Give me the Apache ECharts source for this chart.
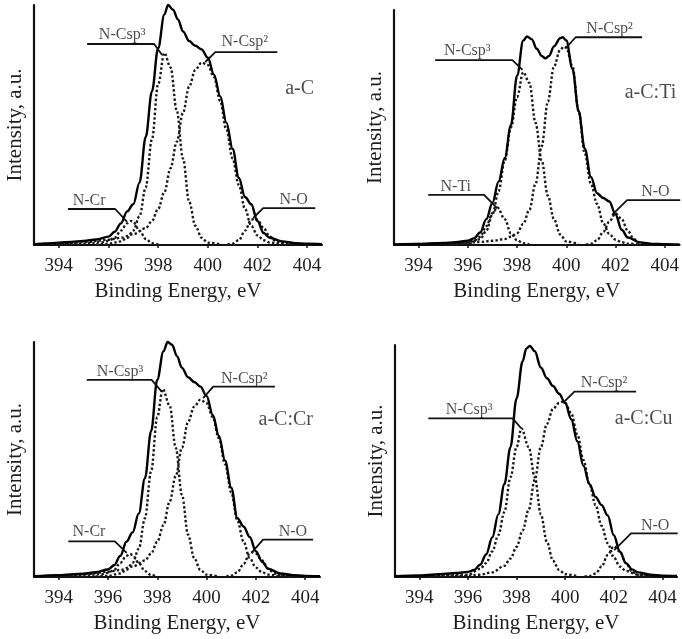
<!DOCTYPE html>
<html><head><meta charset="utf-8">
<script src="https://cdn.jsdelivr.net/npm/echarts@6/dist/echarts.min.js"></script>
<style>html,body{margin:0;padding:0;background:#fff}#c{width:682px;height:639px}</style>
</head><body><div id="c"></div><script>
// ---------- data ----------
const xTicks = [394, 396, 398, 400, 402, 404];
const sampleNames = ['a-C', 'a-C:Ti', 'a-C:Cr', 'a-C:Cu'];

// a-C
const aC_env = [[393,0.3],[393.5,0.6],[394,1.0],[394.5,1.3],[395,1.7],[395.5,2.3],[396,3.5],[396.25,5.5],[396.5,9],[396.75,14],[397,17],[397.25,26],[397.5,45],[397.75,64],[398,82],[398.25,96],[398.4,100],[398.6,98],[398.8,94],[399,89],[399.25,85],[399.5,83],[399.75,81.5],[400,78],[400.25,71],[400.5,62],[400.75,51],[401,40],[401.25,28],[401.5,20],[401.75,17],[402,10],[402.25,5],[402.5,3],[403,1.5],[403.5,0.8],[404,0.5],[404.6,0.3]];
const aC_csp3 = [[395.5,0.2],[396,0.5],[396.5,1.5],[396.75,3],[397,6],[397.25,12],[397.5,24],[397.75,44],[398,67],[398.25,80],[398.5,74],[398.75,56],[399,36],[399.25,18],[399.5,8],[399.75,3],[400,1],[400.5,0.2]];
const aC_csp2 = [[393.2,0.3],[394,0.6],[395,1.2],[396,2.2],[396.5,3],[397,4.5],[397.5,7],[397.75,10],[398,15],[398.25,22],[398.5,32],[398.75,43],[399,55],[399.25,66],[399.5,73],[399.75,76],[400,75],[400.25,70],[400.5,60],[400.75,48],[401,36],[401.25,25],[401.5,15],[401.75,8],[402,4],[402.25,2],[402.5,1],[403,0.4],[403.5,0.2],[404.3,0.1]];
const aC_cr = [[393.5,0.2],[395,0.6],[395.75,1.2],[396,1.8],[396.25,3],[396.5,6],[396.75,9],[396.9,10],[397,9.5],[397.25,6],[397.5,2.5],[397.75,0.8],[398,0.2]];
const aC_o = [[400.8,0.2],[401,0.6],[401.25,2],[401.5,6],[401.75,10.5],[401.9,11],[402,10.5],[402.25,7],[402.5,3.5],[402.75,1.5],[403,0.8],[403.5,0.4],[404.3,0.2]];

// a-C:Ti
const aCTi_env = [[393,0.2],[394,0.4],[395,0.85],[395.5,1.2],[396,1.8],[396.25,2.8],[396.5,5.3],[396.75,11],[397,18],[397.25,27],[397.5,37],[397.75,51],[398,72],[398.25,87],[398.4,88.7],[398.6,87.5],[398.8,83.5],[399,80.5],[399.15,79.4],[399.3,80.5],[399.5,84.5],[399.75,88],[399.85,88.4],[400,87],[400.25,75],[400.5,57],[400.75,41],[401,29],[401.25,22],[401.5,20],[401.75,18.5],[402,13],[402.25,6.5],[402.5,3.2],[403,1.1],[403.5,0.5],[404,0.3],[404.6,0.2]];
const aCTi_csp3 = [[395.5,0.2],[396,0.6],[396.5,2.5],[396.75,6],[397,13],[397.25,23],[397.5,36],[397.75,50],[398,63],[398.25,73.5],[398.5,69],[398.75,52],[399,36],[399.25,21],[399.5,11],[399.75,4.5],[400,1.5],[400.5,0.3]];
const aCTi_csp2 = [[393.2,0.2],[394.5,0.5],[396,1],[396.5,1.3],[397,1.8],[397.5,2.5],[397.75,3.5],[398,5],[398.25,9],[398.5,15],[398.75,26],[399,42],[399.25,61],[399.5,76],[399.75,83],[399.9,84.4],[400,84],[400.25,76],[400.5,57],[400.75,39],[401,26],[401.25,17.5],[401.5,9.2],[401.75,4.6],[402,2.3],[402.25,1.2],[402.5,0.6],[403,0.2]];
const aCTi_ti = [[393.5,0.2],[395.5,0.6],[396,1],[396.25,1.8],[396.5,3.5],[396.75,8],[397,13.5],[397.2,16],[397.5,11],[397.75,5],[398,2],[398.25,0.8],[398.5,0.3]];
const aCTi_o = [[400.8,0.2],[401,0.5],[401.25,2],[401.5,5.5],[401.75,10],[402,13.5],[402.25,11],[402.5,6],[402.75,2.5],[403,0.8],[403.5,0.3]];

// a-C:Cr
const aCCr_env = [[393,0.3],[394,0.8],[395,1.4],[395.5,2],[396,3.2],[396.25,5],[396.5,9],[396.75,15],[397,19],[397.25,27],[397.5,42],[397.75,62],[398,84],[398.25,96],[398.42,100],[398.6,98.8],[398.8,94],[399,89],[399.25,85],[399.5,83],[399.75,81],[400,77],[400.25,69],[400.5,60],[400.75,49.5],[401,38],[401.25,25],[401.5,21.5],[401.75,17],[402,11],[402.25,6.5],[402.5,3.5],[403,1.5],[403.5,0.8],[404,0.5],[404.6,0.3]];
const aCCr_csp3 = [[395.5,0.2],[396,0.5],[396.5,1.5],[396.75,3],[397,6],[397.25,12],[397.5,25],[397.75,45],[398,68],[398.22,80],[398.5,73],[398.75,55],[399,35],[399.25,18],[399.5,8],[399.75,3],[400,1],[400.5,0.2]];
const aCCr_csp2 = [[393.2,0.3],[394,0.6],[395,1.2],[396,2.2],[396.5,3],[397,4.5],[397.5,7],[397.75,10],[398,15],[398.25,22],[398.5,32],[398.75,43],[399,55],[399.25,66],[399.5,72.5],[399.75,75.5],[400,74],[400.25,68],[400.5,59],[400.75,48],[401,36],[401.25,24],[401.5,15],[401.75,8],[402,4],[402.25,2],[402.5,1],[403,0.4],[403.5,0.2],[404.3,0.1]];
const aCCr_cr = [[393.5,0.2],[395,0.6],[395.75,1.2],[396,1.8],[396.25,3],[396.5,6],[396.75,9],[396.9,9.8],[397,9.3],[397.25,6],[397.5,2.5],[397.75,0.8],[398,0.2]];
const aCCr_o = [[400.8,0.2],[401,0.6],[401.25,2],[401.5,5.5],[401.75,10],[401.86,10.5],[402,10],[402.25,7],[402.5,3.5],[402.75,1.5],[403,0.8],[403.5,0.4],[404.3,0.2]];

// a-C:Cu
const aCCu_env = [[393,0.3],[394,0.7],[395,1.3],[395.5,1.7],[396,2.2],[396.25,3],[396.5,5.3],[396.75,9.7],[397,17],[397.25,27],[397.5,40],[397.75,56],[398,77],[398.25,93],[398.4,98.4],[398.55,99.6],[398.75,97.3],[399,90.3],[399.25,85.7],[399.5,82.3],[399.75,79],[400,75],[400.25,68],[400.5,58.5],[400.75,48],[401,40],[401.25,34.5],[401.5,31],[401.75,26.5],[402,18],[402.25,11],[402.5,6],[402.75,3.3],[403,2],[403.5,1],[404,0.6],[404.6,0.4]];
const aCCu_csp3 = [[394,0.3],[395,0.6],[396,1],[396.5,3.5],[396.75,6],[397,11],[397.25,18],[397.5,28],[397.75,43],[398,56],[398.2,64],[398.5,56],[398.75,43],[399,27],[399.25,15],[399.5,7],[399.75,3],[400,1.2],[400.5,0.3]];
const aCCu_csp2 = [[393.2,0.2],[394.5,0.4],[396,0.5],[396.5,1],[397,2],[397.5,4.8],[397.75,8],[398,13],[398.25,20],[398.5,29],[398.75,42],[399,56],[399.25,66],[399.5,72.5],[399.75,75],[399.9,75.6],[400,75],[400.25,70.5],[400.5,61.5],[400.75,50.5],[401,40],[401.25,31],[401.5,22],[401.75,14.5],[402,8.5],[402.25,4.5],[402.5,2.6],[403,1],[403.5,0.4]];
const aCCu_o = [[400.8,0.2],[401,0.4],[401.25,1.5],[401.5,4.5],[401.75,9.5],[402,13.2],[402.25,11],[402.5,6],[402.75,2.3],[403,0.8],[403.5,0.2]];

// annotation anchors (data units): leader polyline + text anchor
const aC_notes = [
  {text:'N-Csp³', at:[396.55,87.5], path:[[395.14,83.75],[397.84,83.75],[398.16,79.2]]},
  {text:'N-Csp²', at:[401.49,84.5], path:[[399.9,76.25],[400.3,80.4],[402.8,80.4]]},
  {text:'N-Cr',   at:[395.22,18.6], path:[[394.37,15],[396.27,15],[396.75,9.6]]},
  {text:'N-O',    at:[403.46,19],   path:[[401.83,11.25],[402.23,15.4],[404.33,15.4]]}
];
const aCTi_notes = [
  {text:'N-Csp³', at:[395.98,82.5], path:[[394.67,78.7],[397.81,78.7],[398.22,74.5]]},
  {text:'N-Csp²', at:[401.76,92.2], path:[[399.97,83.7],[400.38,88.4],[403.08,88.4]]},
  {text:'N-Ti',   at:[395.51,24.8], path:[[394.39,21.3],[396.66,21.3],[397.2,15.6]]},
  {text:'N-O',    at:[403.62,22.6], path:[[401.86,12.8],[402.47,19.1],[404.63,19.1]]}
];
const aCCr_notes = [
  {text:'N-Csp³', at:[396.49,87.3], path:[[395.14,83.9],[397.77,83.9],[398.18,78.9]]},
  {text:'N-Csp²', at:[401.53,84.4], path:[[399.86,76.1],[400.27,81],[402.77,81]]},
  {text:'N-Cr',   at:[395.23,19.2], path:[[394.39,15.2],[396.28,15.2],[396.76,10.3]]},
  {text:'N-O',    at:[403.5,19.3],  path:[[401.82,10.3],[402.29,15.9],[404.32,15.9]]}
];
const aCCu_notes = [
  {text:'N-Csp³', at:[396.05,72.2], path:[[394.37,68.4],[397.84,68.4],[398.19,64.1]]},
  {text:'N-Csp²', at:[401.6,83.6],  path:[[399.9,74.9],[400.38,79.9],[402.92,79.9]]},
  {text:'N-O',    at:[403.7,22],    path:[[402.02,11.6],[402.71,18.8],[404.63,18.8]]}
];
const sampleAnchors = [[403.7,65],[403.42,64.7],[403.21,66.9],[403.23,68.4]];

const panels = [
  {env: aC_env,   comps: [aC_cr, aC_csp3, aC_csp2, aC_o],     notes: aC_notes},
  {env: aCTi_env, comps: [aCTi_ti, aCTi_csp3, aCTi_csp2, aCTi_o], notes: aCTi_notes},
  {env: aCCr_env, comps: [aCCr_cr, aCCr_csp3, aCCr_csp2, aCCr_o], notes: aCCr_notes},
  {env: aCCu_env, comps: [aCCu_csp3, aCCu_csp2, aCCu_o],        notes: aCCu_notes}
];

// ---------- layout / style ----------
const FONT = 'Liberation Serif';
const TXT = '#1e1e1e';
const grids = [
  {left: 34,  top: 5,   width: 288, height: 240},
  {left: 394, top: 10,  width: 286, height: 235},
  {left: 34,  top: 342, width: 286, height: 235},
  {left: 395, top: 345, width: 282, height: 232}
];

const xAxes = grids.map((g, i) => ({
  type: 'value', gridIndex: i, min: 393, max: 404.6,
  axisLine: {onZero: false, lineStyle: {color: '#111', width: 2.2}},
  axisTick: {show: true, customValues: xTicks, length: 3, inside: false, lineStyle: {color: '#111', width: 1.5}},
  axisLabel: {customValues: xTicks, fontSize: 19, fontFamily: FONT, color: TXT, margin: 12},
  splitLine: {show: false},
  name: 'Binding Energy, eV', nameLocation: 'middle', nameGap: 36,
  nameTextStyle: {fontSize: 21, fontFamily: FONT, color: TXT}
}));
const yAxes = grids.map((g, i) => ({
  type: 'value', gridIndex: i, min: 0, max: 100,
  axisLine: {show: true, lineStyle: {color: '#111', width: 2.2}},
  axisTick: {show: false}, axisLabel: {show: false}, splitLine: {show: false},
  name: 'Intensity, a.u.', nameLocation: 'middle', nameGap: 8, nameRotate: 90,
  nameTextStyle: {fontSize: 21, fontFamily: FONT, color: TXT}
}));

const series = [];
panels.forEach((p, i) => {
  p.comps.forEach(c => series.push({
    type: 'line', xAxisIndex: i, yAxisIndex: i, data: c, symbol: 'none',
    smooth: 0.35, smoothMonotone: 'x', silent: true, z: 2,
    lineStyle: {color: '#1a1a1a', width: 2.4, type: [2.4, 2.2]}
  }));
  series.push({
    type: 'line', xAxisIndex: i, yAxisIndex: i, data: p.env, symbol: 'none',
    smooth: 0.35, smoothMonotone: 'x', silent: true, z: 3, clip: false,
    lineStyle: {color: '#000', width: 2.4}
  });
  p.notes.forEach(n => {
    series.push({
      type: 'line', xAxisIndex: i, yAxisIndex: i, data: n.path, symbol: 'none',
      silent: true, clip: false, z: 4, lineStyle: {color: '#111', width: 1.8}
    });
    series.push({
      type: 'scatter', xAxisIndex: i, yAxisIndex: i, data: [n.at], symbolSize: 1,
      silent: true, clip: false, z: 5, itemStyle: {color: 'rgba(0,0,0,0)'},
      label: {show: true, position: 'inside', formatter: n.text, fontSize: 16, fontFamily: FONT, color: TXT}
    });
  });
  series.push({
    type: 'scatter', xAxisIndex: i, yAxisIndex: i, data: [sampleAnchors[i]], symbolSize: 1,
    silent: true, clip: false, z: 5, itemStyle: {color: 'rgba(0,0,0,0)'},
    label: {show: true, position: 'inside', formatter: sampleNames[i], fontSize: 20, fontFamily: FONT, color: TXT}
  });
});

const chart = echarts.init(document.getElementById('c'), null, {renderer: 'canvas'});
chart.setOption({
  animation: false, backgroundColor: '#fff',
  grid: grids, xAxis: xAxes, yAxis: yAxes, series: series
});
</script></body></html>
